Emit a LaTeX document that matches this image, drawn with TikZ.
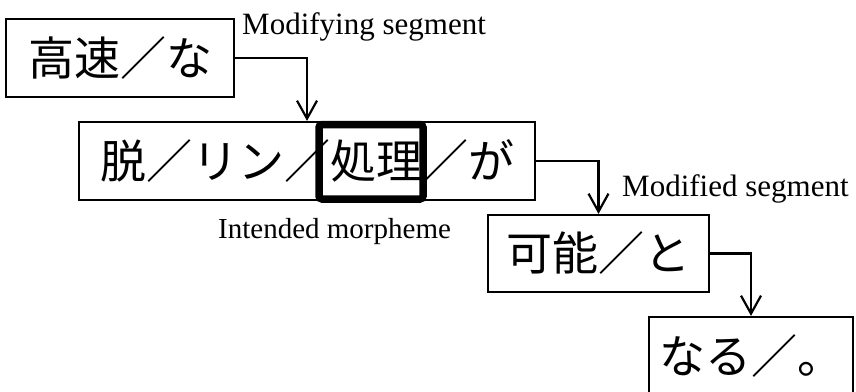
\documentclass[tikz,border=0pt]{standalone}
\usepackage{fontspec}
\setmainfont{Liberation Serif}
\newfontfamily\jpfont{Noto Sans CJK JP}
\usetikzlibrary{arrows.meta}
\begin{document}
\begin{tikzpicture}[x=1pt,y=-1pt,
  seg/.style={draw, line width=2.2pt, inner sep=0pt, font=\jpfont\fontsize{46}{50}\selectfont},
  hl/.style={draw, line width=7.5pt, rounded corners=3pt, inner sep=0pt},
  lbl/.style={inner sep=0pt, anchor=base west, font=\fontsize{31}{34}\selectfont},
  link/.style={line width=2.2pt, -{Straight Barb[length=18pt,width=20pt]}}]
\useasboundingbox (0,0) rectangle (856,391);
\clip (0,0) rectangle (856,391);
\node[seg, minimum width=228pt, minimum height=78pt] (b1) at (120,58) {高速／な};
\node[seg, minimum width=456pt, minimum height=78pt] (b2) at (307,161) {脱／リン／処理／が};
\node[hl, minimum width=104pt, minimum height=74.5pt] (morph) at (371,161.75) {};
\node[seg, minimum width=221pt, minimum height=77pt] (b3) at (598.5,253.5) {可能／と};
\node[seg, minimum width=204pt, minimum height=78pt] (b4) at (751,356) {なる／。};
\draw[link] (b1.east) -| (b2.north);
\draw[link] (b2.east) -| (b3.north);
\draw[link] (b3.east) -| (b4.north);
\node[lbl] (l1) at (242,34) {Modifying segment};
\node[lbl] (l2) at (622,196) {Modified segment};
\node[lbl, font=\fontsize{29}{32}\selectfont] (l3) at (218,238) {Intended morpheme};
\end{tikzpicture}
\end{document}
